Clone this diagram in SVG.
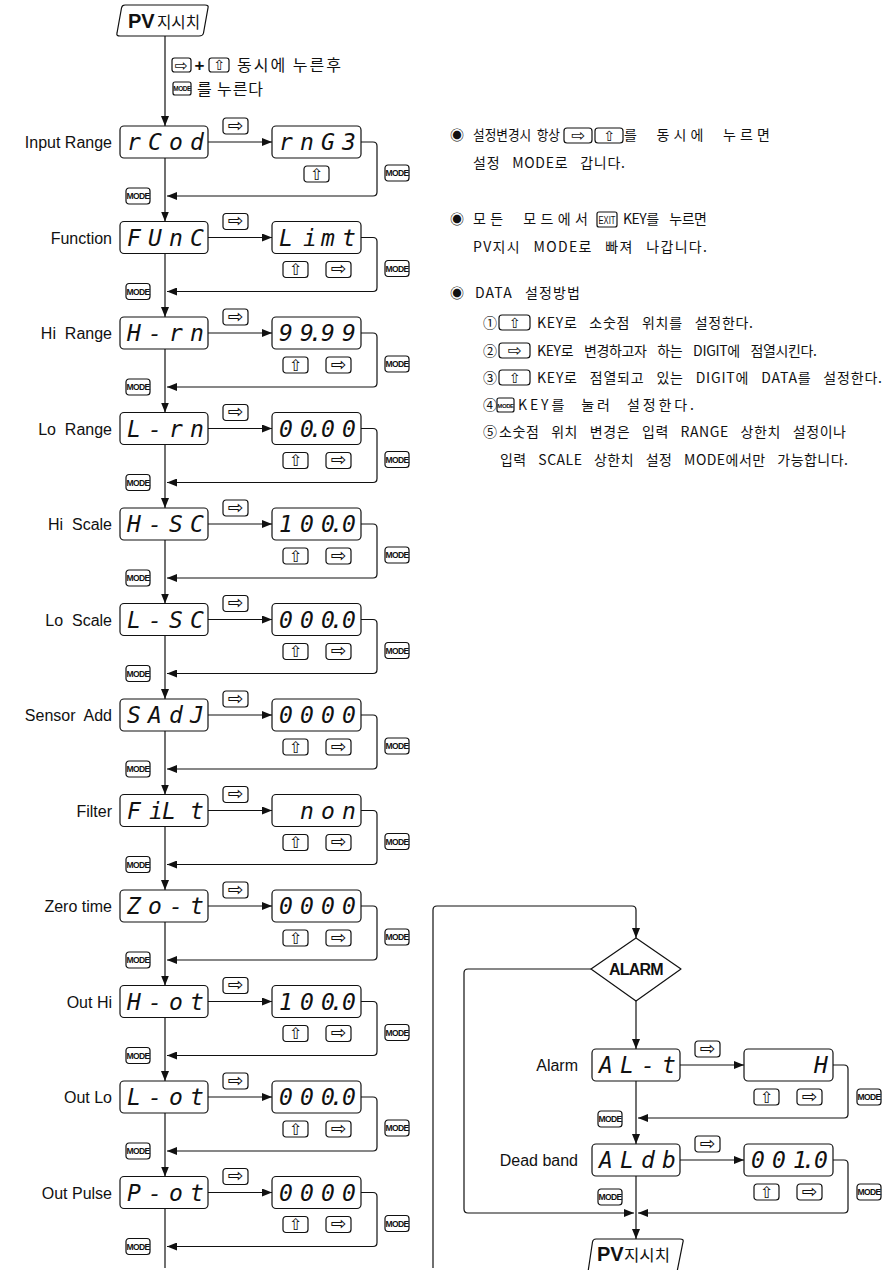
<svg xmlns="http://www.w3.org/2000/svg" xmlns:xlink="http://www.w3.org/1999/xlink" width="887" height="1270" viewBox="0 0 887 1270">
<style>
.ln{fill:none;stroke:#111;stroke-width:1.2}
.box{fill:#fff;stroke:#111;stroke-width:1.2}
.key{fill:#fff;stroke:#111;stroke-width:1.2}
.lbl{font-family:"Liberation Sans",Arial,sans-serif;font-size:16px;fill:#111;text-anchor:end;white-space:pre}
.seg{font-family:"DejaVu Sans Mono","Liberation Mono",monospace;font-style:italic;font-size:23px;fill:#111}
.kg{font-family:"DejaVu Sans",sans-serif;font-size:19px;text-anchor:middle;fill:#111}
.ku{font-family:"DejaVu Sans",sans-serif;font-size:16px;text-anchor:middle;fill:#111}
.mode{font-family:"Liberation Sans",Arial,sans-serif;font-weight:bold;font-size:8.5px;text-anchor:middle;fill:#111;letter-spacing:-0.6px}
.kr{font-family:"Noto Sans CJK KR",sans-serif;font-size:14px;fill:#111;word-spacing:8px}
.krb{font-family:"Noto Sans CJK KR",sans-serif;font-size:16px;fill:#111}
.pv{font-family:"Liberation Sans",Arial,sans-serif;font-weight:bold;font-size:20px;fill:#111}
</style>
<defs>
<marker id="arr" markerUnits="userSpaceOnUse" markerWidth="10" markerHeight="8" refX="10" refY="4" orient="auto"><path d="M0,0 L10,4 L0,8 z" fill="#111"/></marker>
<g id="kR"><rect class="key" width="25" height="16" rx="3"/><text class="kg" x="12.5" y="13.8">⇨</text></g>
<g id="kU"><rect class="key" width="25" height="16" rx="3"/><text class="ku" x="12.5" y="13.5">⇧</text></g>
<g id="kM"><rect class="key" width="24" height="16" rx="3"/><text class="mode" x="12" y="11.2">MODE</text></g>
</defs>
<rect width="887" height="1270" fill="#fff"/>

<g id="connectors">
<path class="ln" marker-end="url(#arr)" d="M165,36V126"/>
<path class="ln" marker-end="url(#arr)" d="M165,158V221.5"/>
<path class="ln" marker-end="url(#arr)" d="M165,253.5V317"/>
<path class="ln" marker-end="url(#arr)" d="M165,349V412.5"/>
<path class="ln" marker-end="url(#arr)" d="M165,444.5V508"/>
<path class="ln" marker-end="url(#arr)" d="M165,540V603.5"/>
<path class="ln" marker-end="url(#arr)" d="M165,635.5V699"/>
<path class="ln" marker-end="url(#arr)" d="M165,731V794.5"/>
<path class="ln" marker-end="url(#arr)" d="M165,826.5V890"/>
<path class="ln" marker-end="url(#arr)" d="M165,922V985.5"/>
<path class="ln" marker-end="url(#arr)" d="M165,1017.5V1081"/>
<path class="ln" marker-end="url(#arr)" d="M165,1113V1176.5"/>
<path class="ln" d="M165,1208.5V1268"/>
<path class="ln" marker-end="url(#arr)" d="M208,142H272"/>
<path class="ln" marker-end="url(#arr)" d="M208,237.5H272"/>
<path class="ln" marker-end="url(#arr)" d="M208,333H272"/>
<path class="ln" marker-end="url(#arr)" d="M208,428.5H272"/>
<path class="ln" marker-end="url(#arr)" d="M208,524H272"/>
<path class="ln" marker-end="url(#arr)" d="M208,619.5H272"/>
<path class="ln" marker-end="url(#arr)" d="M208,715H272"/>
<path class="ln" marker-end="url(#arr)" d="M208,810.5H272"/>
<path class="ln" marker-end="url(#arr)" d="M208,906H272"/>
<path class="ln" marker-end="url(#arr)" d="M208,1001.5H272"/>
<path class="ln" marker-end="url(#arr)" d="M208,1097H272"/>
<path class="ln" marker-end="url(#arr)" d="M208,1192.5H272"/>
<path class="ln" marker-end="url(#arr)" d="M361,142H373Q377,142 377,146V192Q377,196 373,196H167"/>
<path class="ln" marker-end="url(#arr)" d="M361,237.5H373Q377,237.5 377,241.5V287.5Q377,291.5 373,291.5H167"/>
<path class="ln" marker-end="url(#arr)" d="M361,333H373Q377,333 377,337V383Q377,387 373,387H167"/>
<path class="ln" marker-end="url(#arr)" d="M361,428.5H373Q377,428.5 377,432.5V478.5Q377,482.5 373,482.5H167"/>
<path class="ln" marker-end="url(#arr)" d="M361,524H373Q377,524 377,528V574Q377,578 373,578H167"/>
<path class="ln" marker-end="url(#arr)" d="M361,619.5H373Q377,619.5 377,623.5V669.5Q377,673.5 373,673.5H167"/>
<path class="ln" marker-end="url(#arr)" d="M361,715H373Q377,715 377,719V765Q377,769 373,769H167"/>
<path class="ln" marker-end="url(#arr)" d="M361,810.5H373Q377,810.5 377,814.5V860.5Q377,864.5 373,864.5H167"/>
<path class="ln" marker-end="url(#arr)" d="M361,906H373Q377,906 377,910V956Q377,960 373,960H167"/>
<path class="ln" marker-end="url(#arr)" d="M361,1001.5H373Q377,1001.5 377,1005.5V1051.5Q377,1055.5 373,1055.5H167"/>
<path class="ln" marker-end="url(#arr)" d="M361,1097H373Q377,1097 377,1101V1147Q377,1151 373,1151H167"/>
<path class="ln" marker-end="url(#arr)" d="M361,1192.5H373Q377,1192.5 377,1196.5V1242.5Q377,1246.5 373,1246.5H167"/>
<path class="ln" marker-end="url(#arr)" d="M433,1268V910Q433,906 437,906H632Q636,906 636,910V938"/>
<path class="ln" marker-end="url(#arr)" d="M636,1001V1049"/>
<path class="ln" marker-end="url(#arr)" d="M680,1065H744"/>
<path class="ln" marker-end="url(#arr)" d="M833,1065H844Q848,1065 848,1069V1114Q848,1118 844,1118H638"/>
<path class="ln" marker-end="url(#arr)" d="M636,1081V1144"/>
<path class="ln" marker-end="url(#arr)" d="M680,1160H744"/>
<path class="ln" marker-end="url(#arr)" d="M833,1160H844Q848,1160 848,1164V1209Q848,1213 844,1213H638"/>
<path class="ln" marker-end="url(#arr)" d="M591,969H468Q464,969 464,973V1209Q464,1213 468,1213H634"/>
<path class="ln" marker-end="url(#arr)" d="M636,1176V1239"/>
</g>

<g id="pv-top">
<path class="box" d="M125,5H205Q209,5 208,8L203.5,33Q203,36 199,36H120Q116,36 117,33L121.5,8Q122,5 125,5Z"/>
<text class="pv" x="128" y="28">PV</text>
<text class="krb" x="157" y="28" textLength="43" lengthAdjust="spacingAndGlyphs">지시치</text>
</g>

<g id="enter-note">
<rect class="key" x="172" y="58" width="19" height="14" rx="2.5"/>
<text class="kg" x="181.5" y="70.5" style="font-size:16px">⇨</text>
<text x="199.5" y="71" style="font-family:'Liberation Sans',Arial,sans-serif;font-weight:bold;font-size:17px;text-anchor:middle;fill:#111">+</text>
<rect class="key" x="209" y="58" width="20" height="14" rx="2.5"/>
<text class="ku" x="219" y="70" style="font-size:14px">⇧</text>
<text class="krb" x="237" y="71" textLength="104">동시에 누른후</text>
<rect class="key" x="173" y="82" width="18" height="13" rx="2"/>
<text class="mode" x="182" y="91" style="font-size:6.5px;letter-spacing:-0.5px">MODE</text>
<text class="krb" x="197" y="95" textLength="66">를 누른다</text>
</g>

<g id="row-input-range" transform="translate(0,142)">
<text class="lbl" x="112" y="6">Input Range</text>
<rect class="box" x="120" y="-16" width="88" height="32" rx="4"/>
<text class="seg" x="127 148 169 190" y="8">rCod</text>
<use href="#kR" x="223" y="-24"/>
<rect class="box" x="272" y="-16" width="89" height="32" rx="4"/>
<text class="seg" x="279 300 321 342" y="8">rnG3</text>
<use href="#kU" x="304" y="24"/>
<use href="#kM" x="385" y="23"/>
<use href="#kM" x="126" y="46"/>
</g>

<g id="row-function" transform="translate(0,237.5)">
<text class="lbl" x="112" y="6">Function</text>
<rect class="box" x="120" y="-16" width="88" height="32" rx="4"/>
<text class="seg" x="127 148 169 190" y="8">FUnC</text>
<use href="#kR" x="223" y="-24"/>
<rect class="box" x="272" y="-16" width="89" height="32" rx="4"/>
<text class="seg" x="279 303 321 342" y="8">Limt</text>
<use href="#kU" x="283" y="24"/><use href="#kR" x="326" y="24"/>
<use href="#kM" x="385" y="23"/>
<use href="#kM" x="126" y="46"/>
</g>

<g id="row-hi-range" transform="translate(0,333)">
<text class="lbl" x="112" y="6" xml:space="preserve">Hi  Range</text>
<rect class="box" x="120" y="-16" width="88" height="32" rx="4"/>
<text class="seg" x="127 148 169 190" y="8">H-rn</text>
<use href="#kR" x="223" y="-24"/>
<rect class="box" x="272" y="-16" width="89" height="32" rx="4"/>
<text class="seg" x="279 300 309 321 342" y="8">99.99</text>
<use href="#kU" x="283" y="24"/><use href="#kR" x="326" y="24"/>
<use href="#kM" x="385" y="23"/>
<use href="#kM" x="126" y="46"/>
</g>

<g id="row-lo-range" transform="translate(0,428.5)">
<text class="lbl" x="112" y="6" xml:space="preserve">Lo  Range</text>
<rect class="box" x="120" y="-16" width="88" height="32" rx="4"/>
<text class="seg" x="127 148 169 190" y="8">L-rn</text>
<use href="#kR" x="223" y="-24"/>
<rect class="box" x="272" y="-16" width="89" height="32" rx="4"/>
<text class="seg" x="279 300 309 321 342" y="8">00.00</text>
<use href="#kU" x="283" y="24"/><use href="#kR" x="326" y="24"/>
<use href="#kM" x="385" y="23"/>
<use href="#kM" x="126" y="46"/>
</g>

<g id="row-hi-scale" transform="translate(0,524)">
<text class="lbl" x="112" y="6" xml:space="preserve">Hi  Scale</text>
<rect class="box" x="120" y="-16" width="88" height="32" rx="4"/>
<text class="seg" x="127 148 169 190" y="8">H-SC</text>
<use href="#kR" x="223" y="-24"/>
<rect class="box" x="272" y="-16" width="89" height="32" rx="4"/>
<text class="seg" x="279 300 321 330 342" y="8">100.0</text>
<use href="#kU" x="283" y="24"/><use href="#kR" x="326" y="24"/>
<use href="#kM" x="385" y="23"/>
<use href="#kM" x="126" y="46"/>
</g>

<g id="row-lo-scale" transform="translate(0,619.5)">
<text class="lbl" x="112" y="6" xml:space="preserve">Lo  Scale</text>
<rect class="box" x="120" y="-16" width="88" height="32" rx="4"/>
<text class="seg" x="127 148 169 190" y="8">L-SC</text>
<use href="#kR" x="223" y="-24"/>
<rect class="box" x="272" y="-16" width="89" height="32" rx="4"/>
<text class="seg" x="279 300 321 330 342" y="8">000.0</text>
<use href="#kU" x="283" y="24"/><use href="#kR" x="326" y="24"/>
<use href="#kM" x="385" y="23"/>
<use href="#kM" x="126" y="46"/>
</g>

<g id="row-sensor-add" transform="translate(0,715)">
<text class="lbl" x="112" y="6" xml:space="preserve">Sensor  Add</text>
<rect class="box" x="120" y="-16" width="88" height="32" rx="4"/>
<text class="seg" x="127 148 169 190" y="8">SAdJ</text>
<use href="#kR" x="223" y="-24"/>
<rect class="box" x="272" y="-16" width="89" height="32" rx="4"/>
<text class="seg" x="279 300 321 342" y="8">0000</text>
<use href="#kU" x="283" y="24"/><use href="#kR" x="326" y="24"/>
<use href="#kM" x="385" y="23"/>
<use href="#kM" x="126" y="46"/>
</g>

<g id="row-filter" transform="translate(0,810.5)">
<text class="lbl" x="112" y="6">Filter</text>
<rect class="box" x="120" y="-16" width="88" height="32" rx="4"/>
<text class="seg" x="127 149 162 190" y="8">FiLt</text>
<use href="#kR" x="223" y="-24"/>
<rect class="box" x="272" y="-16" width="89" height="32" rx="4"/>
<text class="seg" x="300 321 342" y="8">non</text>
<use href="#kU" x="283" y="24"/><use href="#kR" x="326" y="24"/>
<use href="#kM" x="385" y="23"/>
<use href="#kM" x="126" y="46"/>
</g>

<g id="row-zero-time" transform="translate(0,906)">
<text class="lbl" x="112" y="6">Zero time</text>
<rect class="box" x="120" y="-16" width="88" height="32" rx="4"/>
<text class="seg" x="127 148 169 190" y="8">Zo-t</text>
<use href="#kR" x="223" y="-24"/>
<rect class="box" x="272" y="-16" width="89" height="32" rx="4"/>
<text class="seg" x="279 300 321 342" y="8">0000</text>
<use href="#kU" x="283" y="24"/><use href="#kR" x="326" y="24"/>
<use href="#kM" x="385" y="23"/>
<use href="#kM" x="126" y="46"/>
</g>

<g id="row-out-hi" transform="translate(0,1001.5)">
<text class="lbl" x="112" y="6">Out Hi</text>
<rect class="box" x="120" y="-16" width="88" height="32" rx="4"/>
<text class="seg" x="127 148 169 190" y="8">H-ot</text>
<use href="#kR" x="223" y="-24"/>
<rect class="box" x="272" y="-16" width="89" height="32" rx="4"/>
<text class="seg" x="279 300 321 330 342" y="8">100.0</text>
<use href="#kU" x="283" y="24"/><use href="#kR" x="326" y="24"/>
<use href="#kM" x="385" y="23"/>
<use href="#kM" x="126" y="46"/>
</g>

<g id="row-out-lo" transform="translate(0,1097)">
<text class="lbl" x="112" y="6">Out Lo</text>
<rect class="box" x="120" y="-16" width="88" height="32" rx="4"/>
<text class="seg" x="127 148 169 190" y="8">L-ot</text>
<use href="#kR" x="223" y="-24"/>
<rect class="box" x="272" y="-16" width="89" height="32" rx="4"/>
<text class="seg" x="279 300 321 330 342" y="8">000.0</text>
<use href="#kU" x="283" y="24"/><use href="#kR" x="326" y="24"/>
<use href="#kM" x="385" y="23"/>
<use href="#kM" x="126" y="46"/>
</g>

<g id="row-out-pulse" transform="translate(0,1192.5)">
<text class="lbl" x="112" y="6">Out Pulse</text>
<rect class="box" x="120" y="-16" width="88" height="32" rx="4"/>
<text class="seg" x="127 148 169 190" y="8">P-ot</text>
<use href="#kR" x="223" y="-24"/>
<rect class="box" x="272" y="-16" width="89" height="32" rx="4"/>
<text class="seg" x="279 300 321 342" y="8">0000</text>
<use href="#kU" x="283" y="24"/><use href="#kR" x="326" y="24"/>
<use href="#kM" x="385" y="23"/>
<use href="#kM" x="126" y="46"/>
</g>

<g id="alarm-decision">
<path class="box" stroke-linejoin="round" d="M636,938L681,969L636,1001L591,969Z"/>
<text x="636" y="975" style="font-family:'Liberation Sans',Arial,sans-serif;font-weight:bold;font-size:16px;letter-spacing:-0.8px;text-anchor:middle;fill:#111">ALARM</text>
</g>

<g id="row-alarm" transform="translate(0,1065)">
<text class="lbl" x="578" y="6">Alarm</text>
<rect class="box" x="592" y="-16" width="88" height="32" rx="4"/>
<text class="seg" x="599 620 641 662" y="8">AL-t</text>
<use href="#kR" x="695" y="-24"/>
<rect class="box" x="744" y="-16" width="89" height="32" rx="4"/>
<text class="seg" x="814" y="8">H</text>
<use href="#kU" x="754" y="24"/><use href="#kR" x="797" y="24"/>
<use href="#kM" x="857" y="24"/>
<use href="#kM" x="598" y="46"/>
</g>

<g id="row-dead-band" transform="translate(0,1160)">
<text class="lbl" x="578" y="6">Dead band</text>
<rect class="box" x="592" y="-16" width="88" height="32" rx="4"/>
<text class="seg" x="599 620 641 662" y="8">ALdb</text>
<use href="#kR" x="695" y="-24"/>
<rect class="box" x="744" y="-16" width="89" height="32" rx="4"/>
<text class="seg" x="751 772 793 802 814" y="8">001.0</text>
<use href="#kU" x="754" y="24"/><use href="#kR" x="797" y="24"/>
<use href="#kM" x="857" y="24"/>
<use href="#kM" x="598" y="29"/>
</g>

<g id="pv-bottom">
<path class="box" d="M596,1239H680Q684,1239 683,1242L677,1272H588L592.5,1242Q593,1239 596,1239Z"/>
<text class="pv" x="597" y="1261">PV</text>
<text class="krb" x="624" y="1261" textLength="46" lengthAdjust="spacingAndGlyphs">지시치</text>
</g>

<g id="notes">
<text class="kr" x="457" y="140" text-anchor="middle">◉</text>
<text class="kr" x="473" y="140" textLength="87" lengthAdjust="spacingAndGlyphs" style="word-spacing:3px">설정변경시 항상</text>
<rect class="key" x="564" y="128" width="28" height="15" rx="3"/>
<text class="kg" x="578" y="141" style="font-size:17px">⇨</text>
<rect class="key" x="595" y="128" width="28" height="15" rx="3"/>
<text class="ku" x="609" y="140.5" style="font-size:14px">⇧</text>
<text class="kr" x="624" y="140" textLength="146">를 동시에 누르면</text>
<text class="kr" x="473" y="168" textLength="152">설정 MODE로 갑니다.</text>
<text class="kr" x="457" y="224" text-anchor="middle">◉</text>
<text class="kr" x="473" y="224" textLength="115">모든 모드에서</text>
<rect class="key" x="597" y="212" width="20" height="15" rx="2"/>
<text x="607" y="223.5" style="font-family:'Liberation Sans',Arial,sans-serif;font-size:10px;text-anchor:middle;fill:#111" textLength="17" lengthAdjust="spacingAndGlyphs">EXIT</text>
<text class="kr" x="623" y="224" textLength="84">KEY를 누르면</text>
<text class="kr" x="473" y="252" textLength="234">PV지시 MODE로 빠져 나갑니다.</text>
<text class="kr" x="457" y="298" text-anchor="middle">◉</text>
<text class="kr" x="475" y="298" textLength="105">DATA 설정방법</text>
<text class="kr" x="490" y="328" text-anchor="middle">①</text>
<rect class="key" x="499" y="315" width="31" height="15" rx="3"/>
<text class="ku" x="514.5" y="327.5" style="font-size:14px">⇧</text>
<text class="kr" x="537" y="328" textLength="216">KEY로 소숫점 위치를 설정한다.</text>
<text class="kr" x="490" y="356" text-anchor="middle">②</text>
<rect class="key" x="499" y="343" width="31" height="15" rx="3"/>
<text class="kg" x="514.5" y="356" style="font-size:17px">⇨</text>
<text class="kr" x="537" y="356" textLength="280">KEY로 변경하고자 하는 DIGIT에 점열시킨다.</text>
<text class="kr" x="490" y="383" text-anchor="middle">③</text>
<rect class="key" x="499" y="370" width="31" height="15" rx="3"/>
<text class="ku" x="514.5" y="382.5" style="font-size:14px">⇧</text>
<text class="kr" x="537" y="383" textLength="345">KEY로 점열되고 있는 DIGIT에 DATA를 설정한다.</text>
<text class="kr" x="490" y="410" text-anchor="middle">④</text>
<rect class="key" x="497" y="398" width="17" height="14" rx="2"/>
<text class="mode" x="505.5" y="407.5" style="font-size:6px;letter-spacing:-0.4px">MODE</text>
<text class="kr" x="518" y="410" textLength="176">KEY를 눌러 설정한다.</text>
<text class="kr" x="490" y="437" text-anchor="middle">⑤</text>
<text class="kr" x="499" y="437" textLength="347">소숫점 위치 변경은 입력 RANGE 상한치 설정이나</text>
<text class="kr" x="500" y="465" textLength="348">입력 SCALE 상한치 설정 MODE에서만 가능합니다.</text>
</g>
</svg>
